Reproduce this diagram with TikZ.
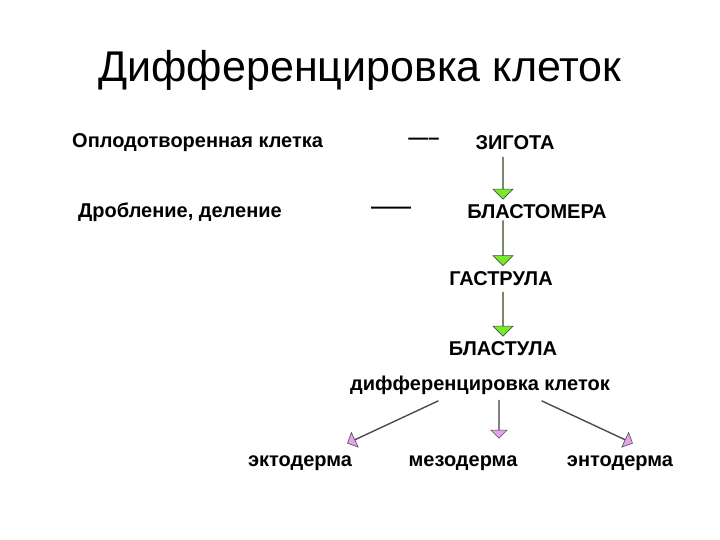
\documentclass[tikz,border=0pt]{standalone}
\usepackage{fontspec}
\setmainfont{Liberation Sans}
\usetikzlibrary{shapes.arrows}
\definecolor{arrgreen}{RGB}{120,235,40}
\definecolor{arrpink}{RGB}{235,160,235}
\tikzset{
  lbl/.style={font=\fontsize{20}{24}\selectfont\bfseries, inner sep=0pt},
  blk/.style={single arrow, draw=black!70, line width=0.6pt, fill=#1,
    single arrow head extend=9pt, minimum width=20pt, inner sep=0pt}
}
\begin{document}
\begin{tikzpicture}[x=1pt,y=-1pt]
  \useasboundingbox[fill=white] (0,0) rectangle (720,540);
  \node[font=\fontsize{43}{50}\selectfont] (title) at (360,70) {Дифференцировка клеток};

  \node[lbl, anchor=west] (oplod) at (72,143) {Оплодотворенная клетка};
  \node[lbl] (d1) at (424,141) {-----};
  \node[lbl] (zigota) at (515,143) {ЗИГОТА};
  \node[lbl, anchor=west] (drobl) at (78,212) {Дробление, деление};
  \node[lbl] (d2) at (391,210) {------};
  \node[lbl] (blastomera) at (537,212) {БЛАСТОМЕРА};
  \node[lbl] (gastrula) at (501,279) {ГАСТРУЛА};
  \node[lbl] (blastula) at (503,349) {БЛАСТУЛА};
  \node[lbl] (diff) at (480,385) {дифференцировка клеток};
  \node[lbl] (ekto) at (300,463) {эктодерма};
  \node[lbl] (mezo) at (463,463) {мезодерма};
  \node[lbl] (ento) at (620,463) {энтодерма};

  % green arrows
  \node[blk=arrgreen, minimum height=42pt, rotate=-90] (g1) at (503,178) {};
  \node[blk=arrgreen, minimum height=45pt, rotate=-90] (g2) at (503,243) {};
  \node[blk=arrgreen, minimum height=44pt, rotate=-90] (g3) at (503,314) {};

  % pink arrows
  \node[blk=arrpink, minimum height=100pt, minimum width=16pt,
    single arrow head extend=6pt, rotate=-155] (p1) at (393,422) {};
  \node[blk=arrpink, minimum height=38pt, minimum width=16pt,
    single arrow head extend=6pt, rotate=-90] (p2) at (499,419) {};
  \node[blk=arrpink, minimum height=100pt, minimum width=16pt,
    single arrow head extend=6pt, rotate=-25] (p3) at (587,422) {};
\end{tikzpicture}
\end{document}
